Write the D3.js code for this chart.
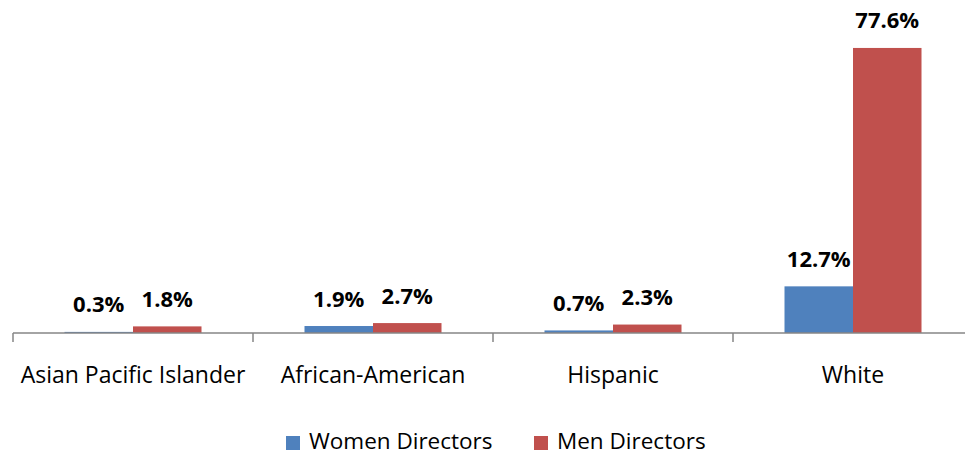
<!DOCTYPE html>
<html><head><meta charset="utf-8">
<script src="https://cdn.jsdelivr.net/npm/d3@7"></script>
<style>body{margin:0;background:#fff}svg{display:block}text{font-family:"Open Sans",Lato,sans-serif}</style>
</head><body><svg id="c" width="965" height="456"></svg>
<script>
const categories = ["Asian Pacific Islander","African-American","Hispanic","White"];
const series = ["Women Directors","Men Directors"];
const women = [0.3, 1.9, 0.7, 12.7];
const men = [1.8, 2.7, 2.3, 77.6];
const colors = ["#4F81BD","#C0504D"];

const svg = d3.select("#c");
const baseY = 333;
const x = d3.scaleBand().domain(categories).range([13, 973]).paddingInner(0).paddingOuter(0);
const y = d3.scaleLinear().domain([0, 90]).range([baseY, baseY - 330.6]);
const inner = d3.scaleBand().domain(series).range([51.5, 240 - 51.5]);

const data = categories.map((c,i)=>({c, vals:[women[i], men[i]]}));

const g = svg.append("g");
data.forEach(d=>{
  d.vals.forEach((v,j)=>{
    const bx = x(d.c) + inner(series[j]);
    g.append("rect").attr("x", bx).attr("width", inner.bandwidth())
      .attr("y", y(v)).attr("height", baseY - y(v)).attr("fill", colors[j]);
    g.append("text").attr("x", bx + inner.bandwidth()/2).attr("y", y(v) - 19.5)
      .attr("text-anchor","middle").attr("font-weight","bold").attr("font-size", 22)
      .attr("fill","#000").text(v.toFixed(1) + "%");
  });
});

// axis
const ax = svg.append("g");
ax.append("line").attr("x1", 13).attr("x2", 965).attr("y1", baseY).attr("y2", baseY)
  .attr("stroke","#868686").attr("stroke-width",1.5);
categories.forEach(c=>{
  ax.append("line").attr("x1", x(c)).attr("x2", x(c)).attr("y1", baseY).attr("y2", baseY+9)
    .attr("stroke","#868686").attr("stroke-width",1.5);
  ax.append("text").attr("x", x(c) + x.bandwidth()/2).attr("y", 383)
    .attr("text-anchor","middle").attr("font-size", 23).attr("fill","#000").text(c);
});

// legend
const legX = [286, 534];
series.forEach((s,j)=>{
  svg.append("rect").attr("x", legX[j]).attr("y", 436).attr("width", 14).attr("height", 14).attr("fill", colors[j]);
  svg.append("text").attr("x", legX[j] + 23).attr("y", 449).attr("font-size", 22.5).attr("fill","#000").text(s);
});
</script></body></html>
